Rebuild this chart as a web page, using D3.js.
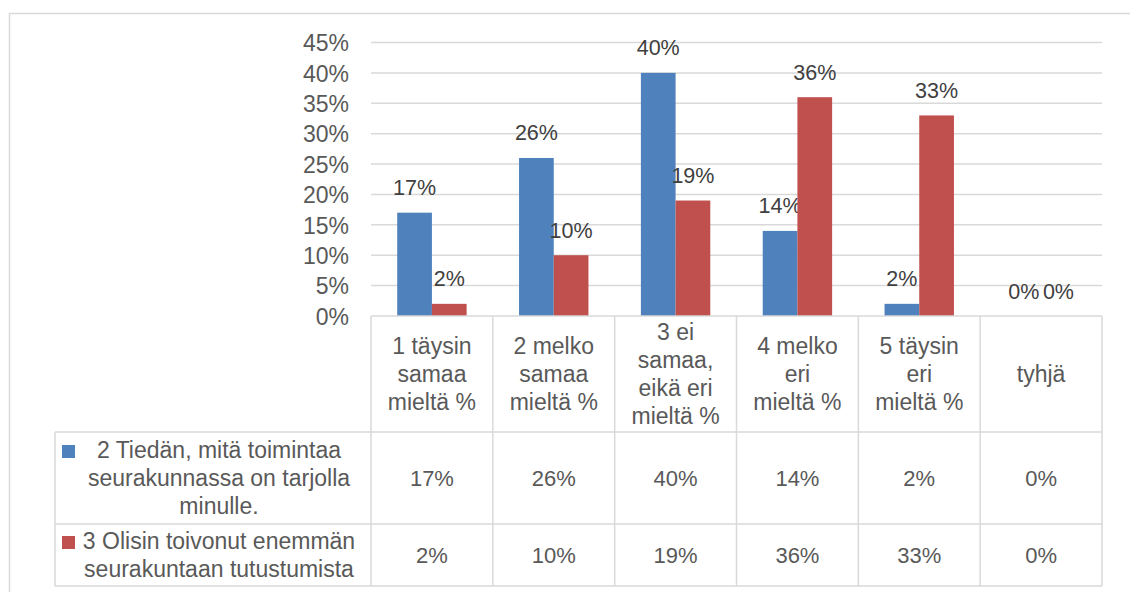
<!DOCTYPE html>
<html>
<head>
<meta charset="utf-8">
<script src="https://cdn.jsdelivr.net/npm/d3@7"></script>
<style>
  body { margin: 0; background: #fff; }
  text { font-family: "Liberation Sans", Arial, sans-serif; }
</style>
</head>
<body>
<div id="chart"></div>
<script>
// Categories (multi-line labels as in the data table header)
const categories = [
  ["1 täysin", "samaa", "mieltä %"],
  ["2 melko", "samaa", "mieltä %"],
  ["3 ei", "samaa,", "eikä eri", "mieltä %"],
  ["4 melko", "eri", "mieltä %"],
  ["5 täysin", "eri", "mieltä %"],
  ["tyhjä"]
];

// Series
const seriesNames = [
  ["2 Tiedän, mitä toimintaa", "seurakunnassa on tarjolla", "minulle."],
  ["3 Olisin toivonut enemmän", "seurakuntaan tutustumista"]
];
const tiedan = [0.17, 0.26, 0.40, 0.14, 0.02, 0.00];
const olisin = [0.02, 0.10, 0.19, 0.36, 0.33, 0.00];
const yTicks = [0, 0.05, 0.10, 0.15, 0.20, 0.25, 0.30, 0.35, 0.40, 0.45];

const colors = ['#4F81BD', '#C0504D'];
const series = [tiedan, olisin];

const W = 1130, H = 592;
const plot = { left: 371, right: 1102, top: 42.5, bottom: 316 };
const tableRows = [316, 432, 524, 586];
const legendLeft = 55;
const fmt = d3.format('.0%');

const svg = d3.select('#chart')
  .append('svg')
  .attr('width', W)
  .attr('height', H);

// Outer chart border
svg.append('rect')
  .attr('x', 9.5).attr('y', 13.5)
  .attr('width', W + 10).attr('height', H + 10)
  .attr('fill', 'none')
  .attr('stroke', '#d9d9d9')
  .attr('stroke-width', 1.5);

// Scales
const x = d3.scaleBand()
  .domain(d3.range(categories.length))
  .range([plot.left, plot.right]);
const bandInner = 69.4;
const xs = d3.scaleBand()
  .domain([0, 1])
  .range([0, bandInner]);
const y = d3.scaleLinear()
  .domain([0, 0.45])
  .range([plot.bottom, plot.top]);

// Gridlines
svg.append('g')
  .selectAll('line')
  .data(yTicks.slice(1))
  .join('line')
  .attr('x1', plot.left).attr('x2', plot.right)
  .attr('y1', d => y(d)).attr('y2', d => y(d))
  .attr('stroke', '#d9d9d9')
  .attr('stroke-width', 1.5);

// Y axis labels
const yAxis = svg.append('g')
  .attr('transform', `translate(${plot.left},0)`)
  .call(d3.axisLeft(y).tickValues(yTicks).tickFormat(fmt).tickSize(0).tickPadding(22));
yAxis.select('.domain').remove();
yAxis.selectAll('text')
  .attr('fill', '#595959')
  .attr('dy', '0.36em')
  .style('font-size', '23px')
  .style('font-family', '"Liberation Sans", Arial, sans-serif');

// Bars and data labels
series.forEach((vals, s) => {
  const g = svg.append('g');
  g.selectAll('rect')
    .data(vals)
    .join('rect')
    .attr('x', (d, i) => x(i) + (x.bandwidth() - bandInner) / 2 + xs(s))
    .attr('y', d => y(d))
    .attr('width', xs.bandwidth())
    .attr('height', d => y(0) - y(d))
    .attr('fill', colors[s]);

  g.selectAll('text')
    .data(vals)
    .join('text')
    .attr('x', (d, i) => x(i) + (x.bandwidth() - bandInner) / 2 + xs(s) + xs.bandwidth() / 2)
    .attr('y', d => y(d) - 17.5)
    .attr('text-anchor', 'middle')
    .attr('fill', '#404040')
    .style('font-size', '21.5px')
    .text(d => fmt(d));
});

// Data table grid
const grid = svg.append('g')
  .attr('stroke', '#d9d9d9')
  .attr('stroke-width', 1.5);
grid.append('line')
  .attr('x1', plot.left).attr('x2', plot.right)
  .attr('y1', tableRows[0]).attr('y2', tableRows[0]);
tableRows.slice(1).forEach(r => {
  grid.append('line')
    .attr('x1', legendLeft).attr('x2', plot.right)
    .attr('y1', r).attr('y2', r);
});
grid.append('line')
  .attr('x1', legendLeft).attr('x2', legendLeft)
  .attr('y1', tableRows[1]).attr('y2', tableRows[3]);
d3.range(categories.length + 1).forEach(i => {
  const xx = i < categories.length ? x(i) : plot.right;
  grid.append('line')
    .attr('x1', xx).attr('x2', xx)
    .attr('y1', tableRows[0]).attr('y2', tableRows[3]);
});

// Header labels
const lineH = 28;
categories.forEach((lines, i) => {
  const cy = (tableRows[0] + tableRows[1]) / 2;
  const t = svg.append('text')
    .attr('text-anchor', 'middle')
    .attr('fill', '#595959')
    .style('font-size', '23px');
  const firstBase = cy - (lines.length - 1) * lineH / 2 + 8;
  lines.forEach((ln, k) => {
    t.append('tspan')
      .attr('x', x(i) + x.bandwidth() / 2)
      .attr('y', firstBase + k * lineH)
      .text(ln);
  });
});

// Series rows: legend + values
series.forEach((vals, s) => {
  const top = tableRows[s + 1], bot = tableRows[s + 2];
  const cy = (top + bot) / 2;
  const lines = seriesNames[s];
  const firstBase = cy - (lines.length - 1) * lineH / 2 + 8;
  const t = svg.append('text')
    .attr('text-anchor', 'middle')
    .attr('fill', '#595959')
    .style('font-size', '23px');
  lines.forEach((ln, k) => {
    t.append('tspan')
      .attr('x', 219)
      .attr('y', firstBase + k * lineH)
      .text(ln);
  });
  svg.append('rect')
    .attr('x', 62).attr('y', firstBase - 13)
    .attr('width', 13).attr('height', 13)
    .attr('fill', colors[s]);

  svg.append('g')
    .selectAll('text')
    .data(vals)
    .join('text')
    .attr('x', (d, i) => x(i) + x.bandwidth() / 2)
    .attr('y', cy + 8)
    .attr('text-anchor', 'middle')
    .attr('fill', '#595959')
    .style('font-size', '22px')
    .text(d => fmt(d));
});
</script>
</body>
</html>
